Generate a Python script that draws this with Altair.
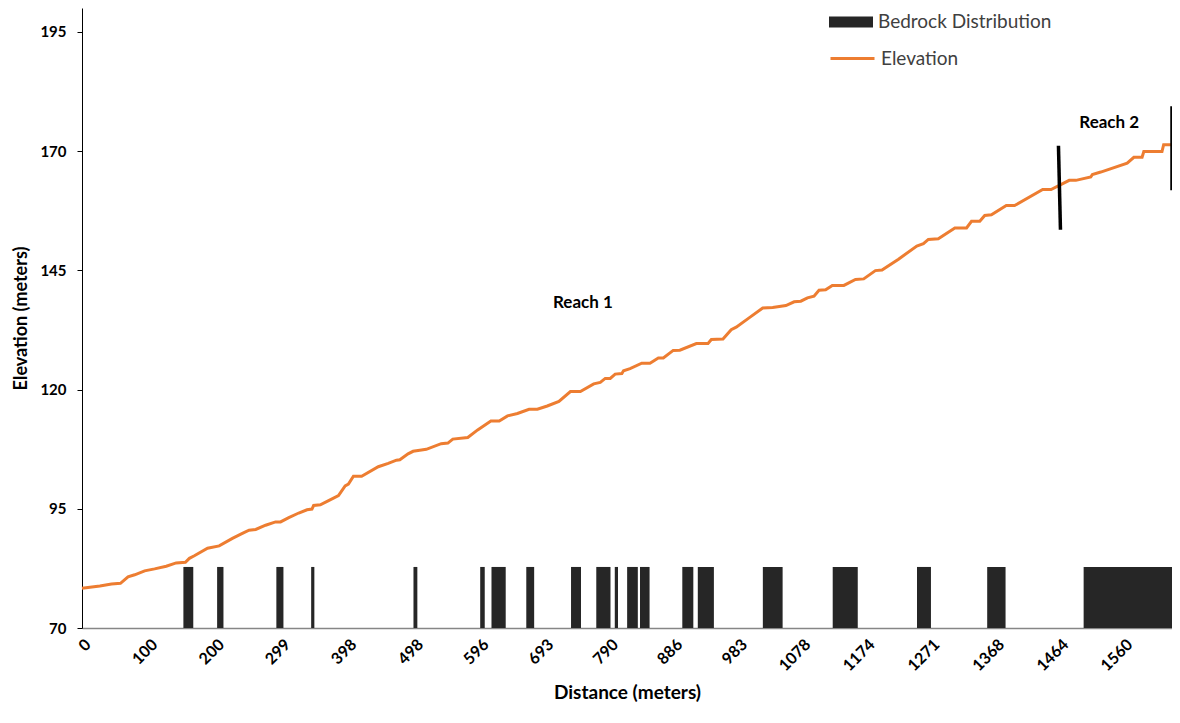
import altair as alt
import pandas as pd

# ---- data ----
distance = [0, 26.8, 44.2, 57.6, 68.9, 78.9, 93.8, 108.7, 126.1, 141.0, 154.8, 160.8, 168.2,
            188.0, 205.4, 225.2, 240.1, 250.1, 260.1, 274.9, 289.8, 297.3, 309.6, 324.5,
            336.9, 344.3, 346.8, 356.8, 369.2, 384.0, 394.0, 398.9, 406.4, 418.7, 443.6,
            458.5, 470.8, 475.9, 488.2, 495.7, 505.7, 515.5, 537.8, 547.8, 555.2, 577.6,
            592.4, 612.2, 624.7, 637.1, 652.0, 669.4, 681.8, 696.6, 714.1, 731.3, 746.2,
            766.2, 776.0, 783.4, 790.9, 798.3, 808.3, 810.8, 820.6, 838.1, 850.4, 862.9,
            870.4, 885.2, 895.1, 919.9, 937.3, 942.3, 959.7, 972.0, 979.5, 999.3, 1019.2,
            1034.1, 1053.9, 1066.3, 1076.2, 1086.2, 1096.0, 1103.5, 1113.4, 1123.4, 1140.7,
            1158.1, 1170.4, 1187.9, 1197.8, 1222.5, 1249.9, 1259.8, 1267.2, 1282.1, 1306.9,
            1324.4, 1331.8, 1344.2, 1351.6, 1361.6, 1383.9, 1396.3, 1438.4, 1450.9, 1478.1,
            1488.1, 1510.4, 1512.8, 1525.3, 1564.9, 1574.9, 1587.2, 1589.8, 1617.0, 1619.5,
            1632.0]
elevation = [78.33, 78.82, 79.24, 79.36, 80.74, 81.16, 81.98, 82.40, 82.95, 83.64, 83.78,
             84.61, 85.14, 86.74, 87.21, 88.80, 89.83, 90.52, 90.66, 91.55, 92.25, 92.25,
             93.14, 94.11, 94.79, 94.94, 95.68, 95.83, 96.71, 97.75, 99.81, 100.17, 101.82,
             101.82, 103.82, 104.50, 105.19, 105.27, 106.51, 107.05, 107.25, 107.46, 108.64,
             108.78, 109.61, 109.94, 111.53, 113.39, 113.39, 114.48, 114.98, 115.87, 115.87,
             116.55, 117.52, 119.59, 119.59, 121.18, 121.51, 122.33, 122.33, 123.24, 123.37,
             123.93, 124.40, 125.52, 125.52, 126.61, 126.61, 128.20, 128.26, 129.65, 129.65,
             130.48, 130.60, 132.54, 133.08, 135.08, 137.09, 137.21, 137.62, 138.39, 138.53,
             139.21, 139.57, 140.81, 140.93, 141.84, 141.84, 143.08, 143.20, 144.94, 145.06,
             147.33, 150.10, 150.58, 151.47, 151.61, 153.88, 153.88, 155.27, 155.27, 156.51,
             156.63, 158.57, 158.57, 161.94, 161.94, 163.86, 163.86, 164.57, 165.10, 165.60,
             167.46, 168.70, 168.70, 169.90, 169.90, 171.34, 171.34]

bed_start = [151.8, 202.3, 291.0, 343.1, 496.3, 596.2, 613.1, 665.2, 732.2, 770.0, 797.7,
             816.2, 835.5, 898.8, 922.0, 1019.4, 1124.0, 1250.2, 1355.3, 1499.7]
bed_end = [166.6, 211.8, 301.6, 347.9, 502.1, 603.0, 634.4, 677.0, 747.1, 791.3, 802.5,
           832.2, 849.8, 915.3, 946.1, 1049.0, 1161.5, 1271.1, 1382.8, 1632.0]
bed_base = 70
bed_top = 82.8

x_ticks = [0, 100, 200, 299, 398, 498, 596, 693, 790, 886, 983, 1078, 1174, 1271, 1368, 1464, 1560]
y_ticks = [70, 95, 120, 145, 170, 195]

reach_labels = ["Reach 1", "Reach 2"]
reach_x = [750, 1538]
reach_y = [138.2, 175.8]

bound_x = [1462, 1632]
bound_x2 = [1465, 1632]
bound_top = [171.1, 179.4]
bound_bottom = [153.5, 161.8]

FONT = "Lato"

line_df = pd.DataFrame({"d": distance, "e": elevation, "s": "Elevation"})
bed_df = pd.DataFrame({"a": bed_start, "b": bed_end, "lo": bed_base, "hi": bed_top,
                       "s": "Bedrock Distribution"})
reach_df = pd.DataFrame({"t": reach_labels, "x": reach_x, "y": reach_y})
bound_df = pd.DataFrame({"x": bound_x, "x2": bound_x2, "y": bound_top, "y2": bound_bottom})

xscale = alt.Scale(domain=[0, 1632], nice=False, zero=False)
yscale = alt.Scale(domain=[70, 200], nice=False, zero=False)

xaxis = alt.Axis(values=x_ticks, format="d", labelAngle=-45, labelFont=FONT, labelFontSize=16,
                 labelFontWeight="bold", labelColor="#000000", labelOverlap=False,
                 labelFlush=False, ticks=False, labelPadding=8, domainColor="#868686",
                 domainWidth=1.5, grid=False, title="Distance (meters)", titleFont=FONT,
                 titleFontSize=19, titleFontWeight="bold", titleColor="#000000",
                 titlePadding=10)
yaxis = alt.Axis(values=y_ticks, format="d", labelFont=FONT, labelFontSize=15,
                 labelFontWeight="bold", labelColor="#000000", labelFlush=False, tickSize=5,
                 tickColor="#000000", labelPadding=11, domainColor="#000000", grid=False,
                 title="Elevation  (meters)", titleFont=FONT, titleFontSize=18,
                 titleFontWeight="bold", titleColor="#000000", titlePadding=9)

bars = alt.Chart(bed_df).mark_rect().encode(
    x=alt.X("a:Q", scale=xscale, axis=xaxis),
    x2="b:Q",
    y=alt.Y("lo:Q", scale=yscale, axis=yaxis),
    y2="hi:Q",
    color=alt.Color("s:N", scale=alt.Scale(domain=["Bedrock Distribution"], range=["#262626"]),
                    legend=alt.Legend(title=None, orient="none", legendX=747, legendY=-8,
                                      symbolType="M-1,-0.25H1V0.25H-1Z", symbolSize=1936,
                                      symbolStrokeWidth=0, labelFont=FONT, labelFontSize=19,
                                      labelColor="#404040", labelOffset=5, labelLimit=400)),
)

line = alt.Chart(line_df).mark_line(strokeWidth=3).encode(
    x=alt.X("d:Q", scale=xscale),
    y=alt.Y("e:Q", scale=yscale),
    stroke=alt.Stroke("s:N", scale=alt.Scale(domain=["Elevation"], range=["#ED7D31"]),
                      legend=alt.Legend(title=None, orient="none", legendX=747, legendY=27,
                                        symbolType="stroke", symbolSize=1936,
                                        symbolStrokeWidth=3, labelFont=FONT, labelFontSize=19,
                                        labelColor="#404040", labelOffset=5, labelLimit=400)),
)

rules = alt.Chart(bound_df).mark_rule(color="#000000", strokeWidth=3.5).encode(
    x=alt.X("x:Q", scale=xscale), x2="x2:Q",
    y=alt.Y("y:Q", scale=yscale), y2="y2:Q",
)

texts = alt.Chart(reach_df).mark_text(font=FONT, fontSize=17, fontWeight="bold",
                                      color="#000000").encode(
    x=alt.X("x:Q", scale=xscale),
    y=alt.Y("y:Q", scale=yscale),
    text="t:N",
)

chart = alt.layer(bars, line, rules, texts).resolve_legend(
    color="independent", stroke="independent"
).properties(
    width=1090, height=620,
    autosize=alt.AutoSizeParams(type="none"),
    padding={"left": 74, "top": 0, "right": 0, "bottom": 82},
    background="#ffffff",
).configure_view(stroke=None)

chart.save("out.html", embed_options={"renderer": "svg", "actions": False})
